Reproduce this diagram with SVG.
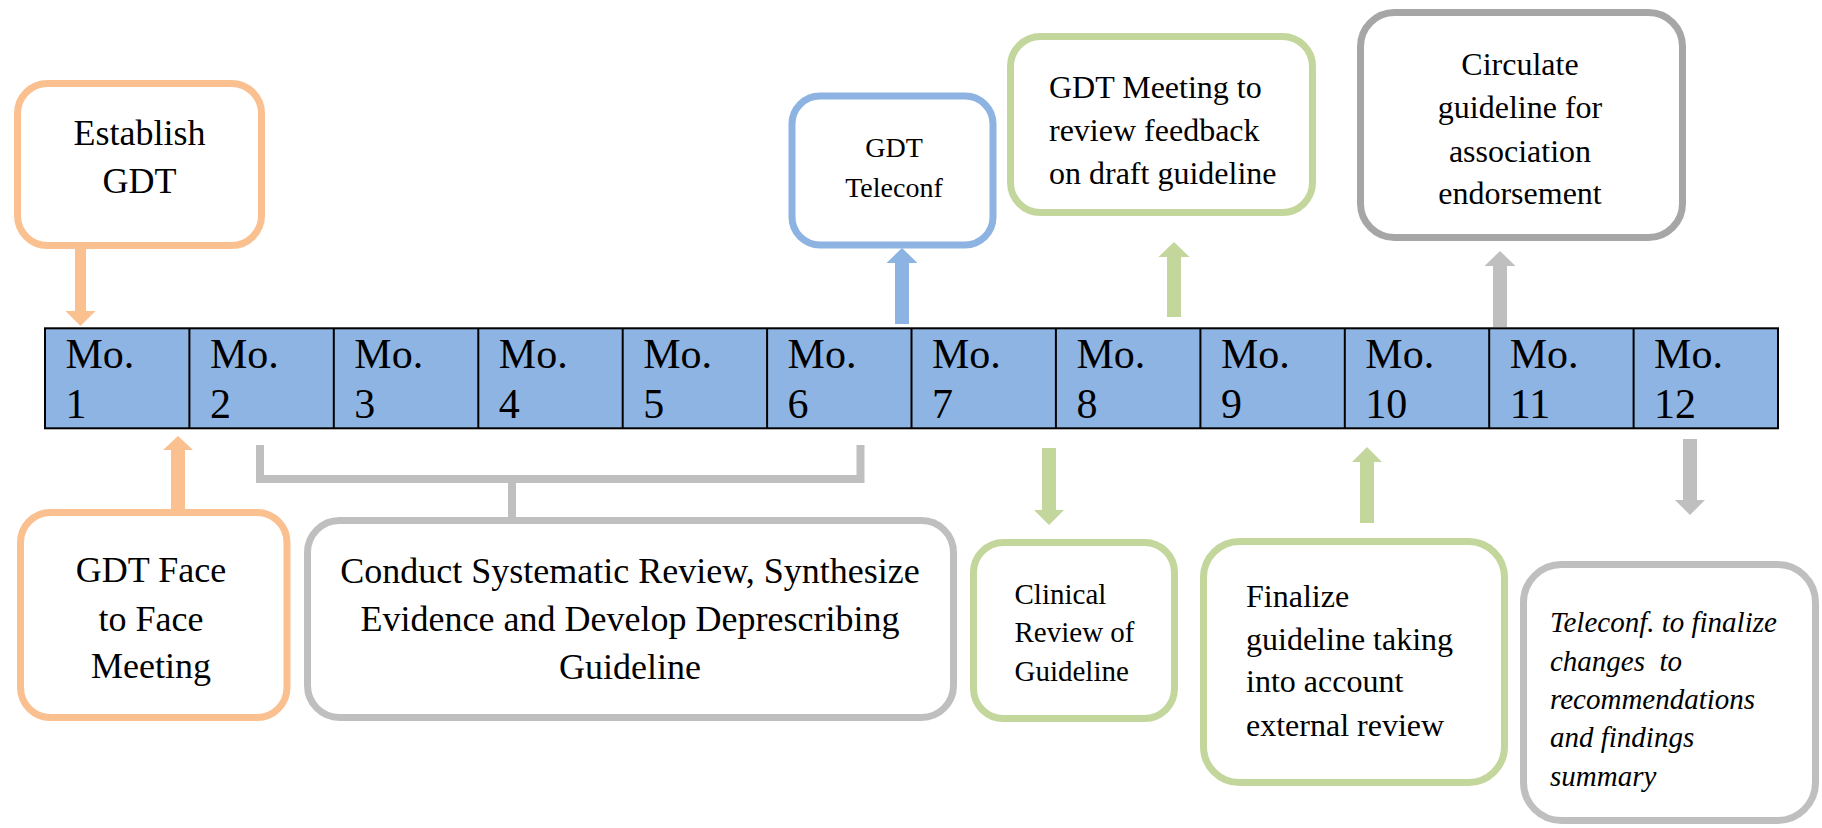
<svg xmlns="http://www.w3.org/2000/svg" width="1822" height="828" viewBox="0 0 1822 828" font-family="'Liberation Serif', 'DejaVu Serif', serif">
<style>
.box{fill:#fff;stroke-width:7}
.or{stroke:#FAC090}.bl{stroke:#8DB3E2}.gr{stroke:#C3D69B}.gy{stroke:#A6A6A6}.lg{stroke:#BFBFBF}
.c{text-anchor:middle}
.cell{fill:#8EB4E3;stroke:#000;stroke-width:2}
</style>
<rect width="1822" height="828" fill="#fff"/>
<g id="timeline">
<rect class="cell" x="45" y="328.3" width="1733" height="100"/>
<g stroke="#000" stroke-width="2">
<line x1="189.4" y1="328.3" x2="189.4" y2="428.3"/>
<line x1="333.8" y1="328.3" x2="333.8" y2="428.3"/>
<line x1="478.3" y1="328.3" x2="478.3" y2="428.3"/>
<line x1="622.7" y1="328.3" x2="622.7" y2="428.3"/>
<line x1="767.1" y1="328.3" x2="767.1" y2="428.3"/>
<line x1="911.5" y1="328.3" x2="911.5" y2="428.3"/>
<line x1="1055.9" y1="328.3" x2="1055.9" y2="428.3"/>
<line x1="1200.4" y1="328.3" x2="1200.4" y2="428.3"/>
<line x1="1344.8" y1="328.3" x2="1344.8" y2="428.3"/>
<line x1="1489.2" y1="328.3" x2="1489.2" y2="428.3"/>
<line x1="1633.6" y1="328.3" x2="1633.6" y2="428.3"/>
</g>
<g font-size="42" font-family="Liberation Serif, serif">
<text x="65.5" y="368">Mo.</text><text x="65.5" y="418">1</text>
<text x="209.9" y="368">Mo.</text><text x="209.9" y="418">2</text>
<text x="354.3" y="368">Mo.</text><text x="354.3" y="418">3</text>
<text x="498.8" y="368">Mo.</text><text x="498.8" y="418">4</text>
<text x="643.2" y="368">Mo.</text><text x="643.2" y="418">5</text>
<text x="787.6" y="368">Mo.</text><text x="787.6" y="418">6</text>
<text x="932" y="368">Mo.</text><text x="932" y="418">7</text>
<text x="1076.4" y="368">Mo.</text><text x="1076.4" y="418">8</text>
<text x="1220.9" y="368">Mo.</text><text x="1220.9" y="418">9</text>
<text x="1365.3" y="368">Mo.</text><text x="1365.3" y="418">10</text>
<text x="1509.7" y="368">Mo.</text><text x="1509.7" y="418">11</text>
<text x="1654.1" y="368">Mo.</text><text x="1654.1" y="418">12</text>
</g>
</g>
<g id="connectors">
<polygon fill="#FAC090" points="75.5,249 86,249 86,311 95.5,311 80.5,326 65.5,311 75,311 75,249"/>
<polygon fill="#FAC090" points="171,509 185,509 185,450 193,450 178,436 163,450 171,450"/>
<polygon fill="#8DB3E2" points="895,324 909,324 909,263 917.5,263 902,248 886.5,263 895,263"/>
<polygon fill="#C3D69B" points="1167,317 1181,317 1181,257 1189.5,257 1174,242 1158.5,257 1167,257"/>
<polygon fill="#BFBFBF" points="1493,327 1507,327 1507,266 1515.5,266 1500,251 1484.5,266 1493,266"/>
<polygon fill="#C3D69B" points="1042,448 1056,448 1056,510 1064,510 1049,525 1034,510 1042,510"/>
<polygon fill="#C3D69B" points="1360,523 1374,523 1374,462 1382,462 1367,447 1352,462 1360,462"/>
<polygon fill="#BFBFBF" points="1683,439 1697,439 1697,500 1705,500 1690,515 1675,500 1683,500"/>
<path d="M260 445 V479 H860.5 V445 M512 479 V518" fill="none" stroke="#BFBFBF" stroke-width="8"/>
</g>
<g id="n-establish">
<rect class="box or" x="17.5" y="83.5" width="244" height="162" rx="30"/>
<text class="c" x="139.5" y="145" font-size="36">Establish</text>
<text class="c" x="139.5" y="193" font-size="36">GDT</text>
</g>
<g id="n-face">
<rect class="box or" x="20.5" y="512.5" width="266.5" height="205" rx="30"/>
<text class="c" x="151" y="582" font-size="36">GDT Face</text>
<text class="c" x="151" y="631" font-size="36">to Face</text>
<text class="c" x="151" y="678" font-size="36">Meeting</text>
</g>
<g id="n-conduct">
<rect class="box lg" x="307.5" y="520.5" width="646" height="197" rx="32"/>
<text class="c" x="630" y="583" font-size="36">Conduct Systematic Review, Synthesize</text>
<text class="c" x="630" y="631" font-size="36">Evidence and Develop Deprescribing</text>
<text class="c" x="630" y="679" font-size="36">Guideline</text>
</g>
<g id="n-teleconf">
<rect class="box bl" x="792" y="96" width="201" height="149" rx="28"/>
<text class="c" x="894" y="157" font-size="28">GDT</text>
<text class="c" x="894" y="197" font-size="28">Teleconf</text>
</g>
<g id="n-meeting">
<rect class="box gr" x="1010.5" y="36.5" width="302" height="176" rx="30"/>
<text x="1049" y="98" font-size="32">GDT Meeting to</text>
<text x="1049" y="141" font-size="32">review feedback</text>
<text x="1049" y="184" font-size="32">on draft guideline</text>
</g>
<g id="n-circulate">
<rect class="box gy" x="1360.5" y="12.5" width="322" height="225" rx="34"/>
<text class="c" x="1520" y="75" font-size="32">Circulate</text>
<text class="c" x="1520" y="118" font-size="32">guideline for</text>
<text class="c" x="1520" y="162" font-size="32">association</text>
<text class="c" x="1520" y="204" font-size="32">endorsement</text>
</g>
<g id="n-clinical">
<rect class="box gr" x="973.5" y="542.5" width="201" height="176" rx="30"/>
<text x="1014.5" y="604" font-size="29">Clinical</text>
<text x="1014.5" y="642" font-size="29">Review of</text>
<text x="1014.5" y="681" font-size="29">Guideline</text>
</g>
<g id="n-finalize">
<rect class="box gr" x="1203.5" y="541.5" width="301" height="241" rx="36"/>
<text x="1246" y="607" font-size="32">Finalize</text>
<text x="1246" y="650" font-size="32">guideline taking</text>
<text x="1246" y="692" font-size="32">into account</text>
<text x="1246" y="736" font-size="32">external review</text>
</g>
<g id="n-final-teleconf">
<rect class="box lg" x="1523.5" y="564.5" width="292" height="256" rx="38"/>
<g font-size="29" font-style="italic">
<text x="1550" y="632">Teleconf. to finalize</text>
<text x="1550" y="671">changes&#160; to</text>
<text x="1550" y="709">recommendations</text>
<text x="1550" y="747">and findings</text>
<text x="1550" y="786">summary</text>
</g>
</g>
</svg>
